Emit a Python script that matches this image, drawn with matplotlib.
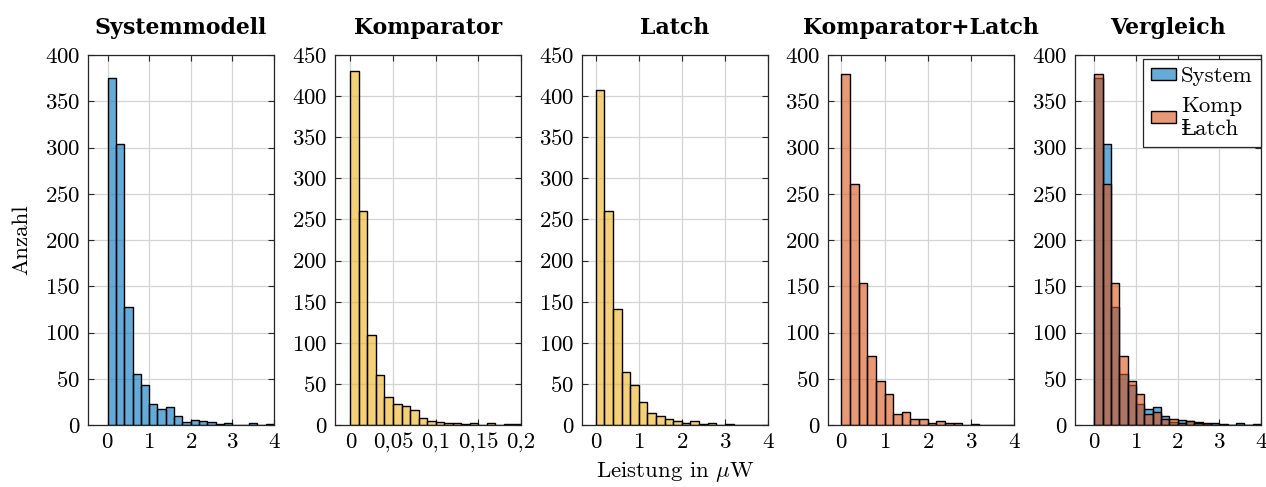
import matplotlib
matplotlib.use('Agg')
import matplotlib.pyplot as plt
from matplotlib.colors import to_rgba
from matplotlib.patches import Patch

plt.rcParams['font.family'] = ['cmr10', 'DejaVu Serif']
plt.rcParams['mathtext.fontset'] = 'cm'
plt.rcParams['axes.formatter.use_mathtext'] = True

# bin edges (µW) and counts
edges_w = [0.0, 0.2, 0.4, 0.6, 0.8, 1.0, 1.2, 1.4, 1.6, 1.8, 2.0,
           2.2, 2.4, 2.6, 2.8, 3.0, 3.2, 3.4, 3.6, 3.8, 4.0]
edges_komp = [0.0, 0.01, 0.02, 0.03, 0.04, 0.05, 0.06, 0.07, 0.08, 0.09, 0.10,
              0.11, 0.12, 0.13, 0.14, 0.15, 0.16, 0.17, 0.18, 0.19, 0.20]

sys_counts = [375, 304, 128, 55, 43, 23, 17, 19, 10, 3, 5, 4, 3, 1, 2, 0, 0, 2, 0, 1]
komp_counts = [430, 260, 109, 61, 34, 26, 23, 18, 8, 5, 4, 3, 3, 1, 2, 0, 2, 0, 1, 1]
latch_counts = [408, 260, 141, 64, 49, 28, 15, 11, 7, 5, 2, 5, 1, 2, 0, 1, 0, 0, 0, 0]
kl_counts = [380, 261, 153, 75, 48, 33, 12, 14, 6, 6, 2, 4, 2, 2, 0, 1, 0, 0, 0, 0]

titles = ['Systemmodell', 'Komparator', 'Latch', 'Komparator+Latch', 'Vergleich']
komp_ticks = [0, 0.05, 0.1, 0.15, 0.2]
komp_ticklabels = ['0', '0,05', '0,1', '0,15', '0,2']

blue = (0, 0.447, 0.741)
yellow = (0.929, 0.694, 0.125)
orange = (0.850, 0.325, 0.098)

FS = 16.5
W, H = 1266, 487
lefts = [88, 335, 582, 828, 1075]
xlims = [(-0.47, 4), (-0.018, 0.2), (-0.32, 4), (-0.31, 4), (-0.46, 4)]
ymaxs = [400, 450, 450, 400, 400]

fig = plt.figure(figsize=(W / 100, H / 100), dpi=100)
axes = []
for i, l in enumerate(lefts):
    ax = fig.add_axes([l / W, 1 - 425 / H, 186 / W, 370 / H])
    axes.append(ax)


def hist(ax, edges, counts, color):
    widths = [edges[k + 1] - edges[k] for k in range(len(counts))]
    ax.bar(edges[:-1], counts, width=widths, align='edge',
           facecolor=to_rgba(color, 0.6), edgecolor='k', linewidth=1.0)


hist(axes[0], edges_w, sys_counts, blue)
hist(axes[1], edges_komp, komp_counts, yellow)
hist(axes[2], edges_w, latch_counts, yellow)
hist(axes[3], edges_w, kl_counts, orange)
hist(axes[4], edges_w, sys_counts, blue)
hist(axes[4], edges_w, kl_counts, orange)

for i, ax in enumerate(axes):
    ax.set_xlim(*xlims[i])
    ax.set_ylim(0, ymaxs[i])
    ax.set_yticks(range(0, ymaxs[i] + 1, 50))
    if i == 1:
        ax.set_xticks(komp_ticks)
        ax.set_xticklabels(komp_ticklabels)
    else:
        ax.set_xticks([0, 1, 2, 3, 4])
    ax.set_axisbelow(True)
    ax.grid(True, color='#d4d4d4', linewidth=0.9)
    ax.tick_params(direction='in', length=4, width=0.8, top=True, right=True,
                   labelsize=FS, pad=5.5, colors='#262626', labelcolor='k')
    for s in ax.spines.values():
        s.set_color('#262626')
        s.set_linewidth(0.9)
    ax.set_title(titles[i], fontfamily='DejaVu Serif', fontweight='bold',
                 fontsize=15.8, pad=15)

handles = [Patch(facecolor=to_rgba(blue, 0.6), edgecolor='k'),
           Patch(facecolor=to_rgba(orange, 0.6), edgecolor='k')]
leg = axes[4].legend(handles, ['System', 'Komp\n\u2c60atch'], loc='upper right',
                     bbox_to_anchor=(1.0, 0.99), borderaxespad=0.0, fontsize=FS,
                     fancybox=False, framealpha=1, edgecolor='#262626',
                     handlelength=1.05, handleheight=0.4, handletextpad=0.25,
                     borderpad=0.35, labelspacing=0.45)
leg.get_frame().set_linewidth(0.9)

fig.text(675 / W, 1 - 472 / H, r'Leistung in $\mu$W', fontsize=FS,
         ha='center', va='center')
fig.text(22 / W, 1 - 240 / H, 'Anzahl', fontsize=FS, rotation=90,
         ha='center', va='center')

fig.savefig('out.png', dpi=100)
